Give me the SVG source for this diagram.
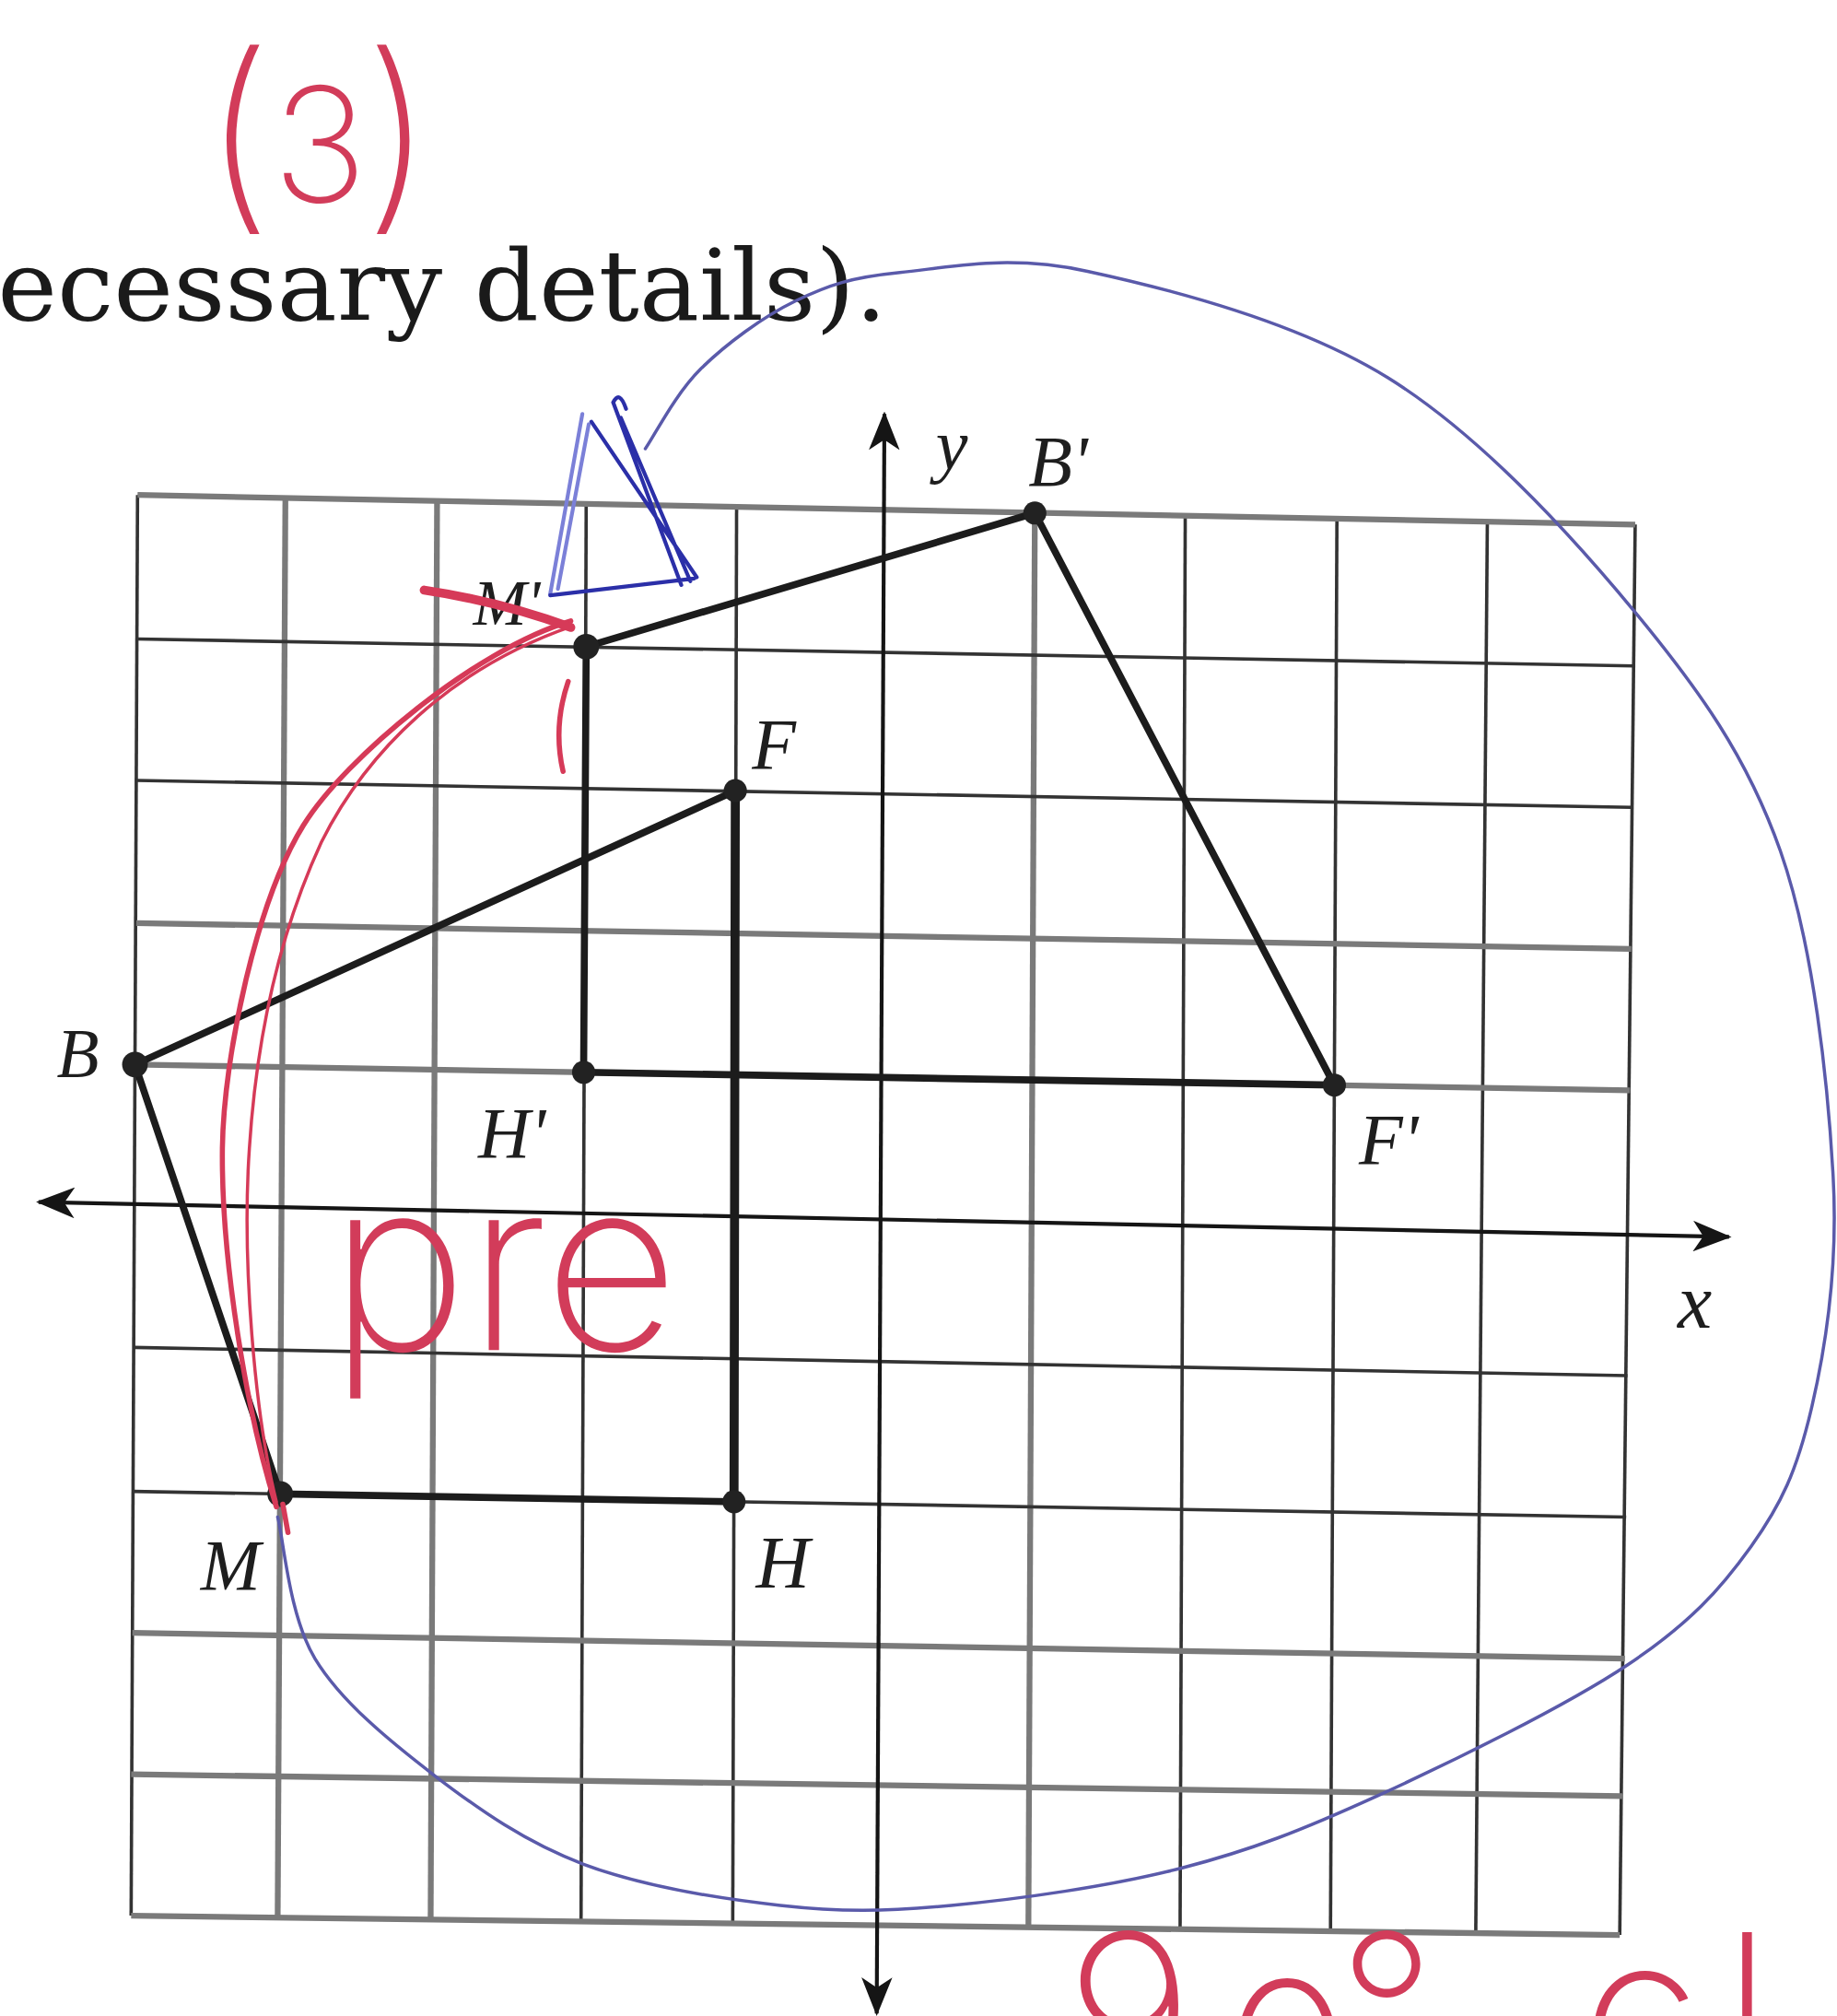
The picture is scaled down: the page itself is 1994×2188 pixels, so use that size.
<svg xmlns="http://www.w3.org/2000/svg" width="1994" height="2188" viewBox="0 0 1994 2188">
<style>
.grid{stroke:#333;stroke-width:2.6;fill:none}
.gridg{stroke:#7a7a7a;stroke-width:4.5;fill:none}
.axis{stroke:#151515;stroke-width:3;fill:none}
.edge{stroke:#1c1c1c;stroke-width:5.5;stroke-linecap:round;fill:none}
.dot{fill:#222}
.lbl{font-family:"Liberation Serif","Times New Roman",serif;font-style:italic;fill:#1e1e1e}
.print{font-family:"DejaVu Serif","Liberation Serif",serif;fill:#1a1a1a}
.hand{font-family:Inter,"Noto Sans","Liberation Sans",sans-serif;font-weight:200;fill:#d23c5a}
.red{stroke:#d63a58;fill:none;stroke-linecap:round}
.blue{stroke:#5a5aaa;fill:none;stroke-width:2.5;stroke-linecap:round}
.ink{stroke:#2b2fa8;fill:none;stroke-width:3;stroke-linecap:round}
.inkl{stroke:#7b80d8;fill:none;stroke-width:3;stroke-linecap:round}
</style>
<defs>
<marker id="arr" viewBox="0 0 30 24" markerWidth="30" markerHeight="24" refX="28" refY="12" orient="auto-start-reverse" markerUnits="userSpaceOnUse">
<path d="M0,0 L30,12 L0,24 L8,12 z" fill="#151515"/>
</marker>
</defs>
<rect width="1994" height="2188" fill="#ffffff"/>
<g transform="scale(1.39538)">
<g id="header">
<text class="print" x="-2" y="249" font-size="76" textLength="692" lengthAdjust="spacingAndGlyphs">ecessary details).</text>
<text class="hand" font-size="162"><tspan x="158" y="160">(</tspan><tspan x="212" y="157" font-size="124">3</tspan><tspan x="283" y="160">)</tspan></text>
</g>
<g id="grid">
<line class="grid" x1="107" y1="385" x2="102" y2="1490"/>
<line class="gridg" x1="222" y1="387" x2="216" y2="1492"/>
<line class="gridg" x1="340" y1="390" x2="335" y2="1493"/>
<line class="grid" x1="456" y1="392" x2="452" y2="1494"/>
<line class="grid" x1="573" y1="394" x2="570" y2="1496"/>
<line class="gridg" x1="805" y1="398" x2="800" y2="1498"/>
<line class="grid" x1="922" y1="401" x2="918" y2="1500"/>
<line class="grid" x1="1040" y1="403" x2="1035" y2="1502"/>
<line class="grid" x1="1157" y1="406" x2="1148" y2="1503"/>
<line class="grid" x1="1272" y1="408" x2="1260" y2="1505"/>
<line class="gridg" x1="107" y1="385" x2="1272" y2="408"/>
<line class="grid" x1="107" y1="497" x2="1271" y2="518"/>
<line class="grid" x1="106" y1="607" x2="1270" y2="628"/>
<line class="gridg" x1="106" y1="718" x2="1269" y2="738"/>
<line class="gridg" x1="105" y1="828" x2="1268" y2="848"/>
<line class="grid" x1="104" y1="1048" x2="1266" y2="1070"/>
<line class="grid" x1="103" y1="1160" x2="1265" y2="1180"/>
<line class="gridg" x1="103" y1="1270" x2="1264" y2="1290"/>
<line class="gridg" x1="102" y1="1380" x2="1262" y2="1397"/>
<line class="gridg" x1="102" y1="1490" x2="1260" y2="1505"/>
</g>
<g id="axes">
<line class="axis" x1="30" y1="935" x2="1345" y2="962" marker-start="url(#arr)" marker-end="url(#arr)"/>
<line class="axis" x1="688" y1="322" x2="682" y2="1566" marker-start="url(#arr)" marker-end="url(#arr)"/>
<text class="lbl" x="728" y="365" font-size="56">y</text>
<text class="lbl" x="1305" y="1033" font-size="60">x</text>
</g>
<g id="connectors">
<line class="edge" x1="105" y1="828" x2="572" y2="615"/>
<line class="edge" x1="572" y1="615" x2="571" y2="1168" style="stroke-width:7"/>
<line class="edge" x1="571" y1="1168" x2="218" y2="1162"/>
<line class="edge" x1="218" y1="1162" x2="105" y2="828"/>
<line class="edge" x1="456" y1="503" x2="805" y2="399"/>
<line class="edge" x1="805" y1="399" x2="1038" y2="844"/>
<line class="edge" x1="1038" y1="844" x2="454" y2="834"/>
<line class="edge" x1="454" y1="834" x2="456" y2="503"/>
</g>
<g id="node-B"><circle class="dot" cx="105" cy="828" r="10"/><text class="lbl" x="44" y="838" font-size="54">B</text></g>
<g id="node-F"><circle class="dot" cx="572" cy="615" r="9"/><text class="lbl" x="585" y="598" font-size="56">F</text></g>
<g id="node-H"><circle class="dot" cx="571" cy="1168" r="9"/><text class="lbl" x="588" y="1235" font-size="58">H</text></g>
<g id="node-M"><circle class="dot" cx="218" cy="1162" r="10"/><text class="lbl" x="156" y="1236" font-size="56">M</text></g>
<g id="node-Bp"><circle class="dot" cx="805" cy="399" r="9"/><text class="lbl" x="800" y="378" font-size="56">B'</text></g>
<g id="node-Mp"><circle class="dot" cx="456" cy="503" r="10"/><text class="lbl" x="368" y="486" font-size="50">M'</text></g>
<g id="node-Hp"><circle class="dot" cx="454" cy="834" r="9"/><text class="lbl" x="372" y="900" font-size="56">H'</text></g>
<g id="node-Fp"><circle class="dot" cx="1038" cy="844" r="9"/><text class="lbl" x="1057" y="905" font-size="56">F'</text></g>
<g id="blue-marks">
<path class="blue" d="M216,1180 C220.8,1198.3 224.7,1256.5 245,1290 C265.3,1323.5 303.2,1354.3 338,1381 C372.8,1407.7 409.2,1433.2 454,1450 C498.8,1466.8 559.3,1476.7 607,1482 C654.7,1487.3 688,1486.8 740,1482 C792,1477.2 863.8,1467.2 919,1453 C974.2,1438.8 1013.2,1423.3 1071,1397 C1128.8,1370.7 1217.5,1327.3 1266,1295 C1314.5,1262.7 1338.2,1236.2 1362,1203 C1385.8,1169.8 1397.7,1144 1409,1096 C1420.3,1048 1430,987.3 1426,915 C1422,842.7 1410.8,735.3 1385,662 C1359.2,588.7 1321.8,536.3 1271,475 C1220.2,413.7 1150.8,338 1080,294 C1009.2,250 909.3,224.7 846,211 C782.7,197.3 737.8,208.2 700,212 C662.2,215.8 644.8,221.5 619,234 C593.2,246.5 564.5,267.8 545,287 C525.5,306.2 509.2,338.7 502,349"/>
<path class="inkl" d="M453,322 L428,462 M458,330 L434,458"/>
<path class="ink" d="M460,328 L542,449 M477,313 L530,455 M483,325 L537,452 M428,463 L540,450 M477,313 Q482,303 487,318"/>
</g>
<g id="red-marks">
<path class="red" style="stroke-width:4" d="M215,1172 C192,1100 172,980 173,893 C174,820 200,700 236,642 C268,590 370,505 444,483"/>
<path class="red" style="stroke-width:2.5" d="M215,1168 C198,1100 188,980 194,893 C200,800 220,720 250,655 C285,585 350,520 445,487"/>
<path class="red" style="stroke-width:7" d="M330,459 Q390,468 444,488"/>
<path class="red" style="stroke-width:4" d="M442,530 Q430,565 438,600"/>
<path class="red" style="stroke-width:4" d="M220,1170 L224,1192"/>
<text class="hand" x="256" y="1050" font-size="185" textLength="272" lengthAdjust="spacingAndGlyphs">pre</text>
<text class="hand" font-size="170" x="829 950 1040 1120 1230 1340" y="1627 1664 1627 1627 1627 1627">90° cl</text>
</g>
</g>
</svg>
